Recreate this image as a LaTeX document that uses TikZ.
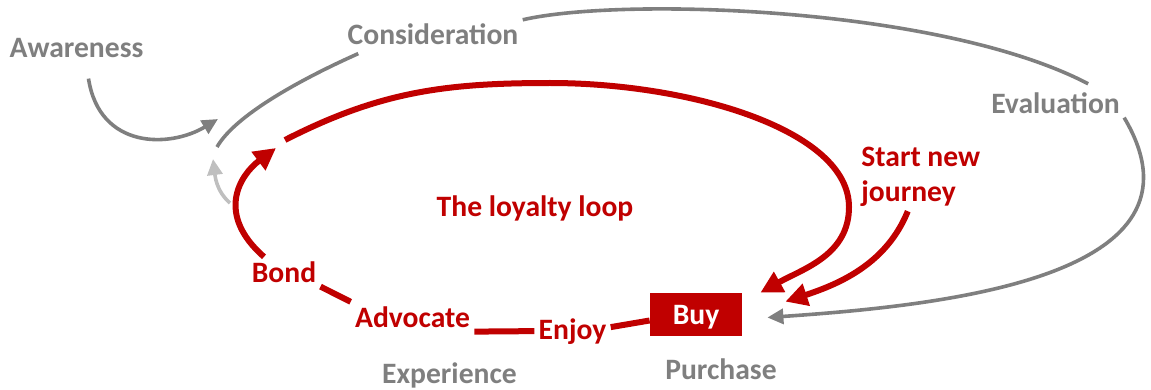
\documentclass[tikz,border=0pt]{standalone}
\usepackage{fontspec}
\setmainfont{Carlito}
\usetikzlibrary{arrows.meta}
\definecolor{LoopRed}{RGB}{192,0,0}
\definecolor{StageGray}{RGB}{127,127,127}
\definecolor{FadeGray}{RGB}{191,191,191}
\tikzset{
  stage/.style={text=StageGray,font=\bfseries\fontsize{14.8}{17.5}\selectfont,inner sep=2pt},
  redstage/.style={stage,text=LoopRed},
  buybox/.style={fill=LoopRed,text=white,font=\bfseries\fontsize{14.8}{17.5}\selectfont,
    minimum width=46pt,minimum height=21.5pt,inner sep=0pt,text depth=0pt},
  grayline/.style={draw=StageGray,line width=1.8pt},
  grayarrow/.style={grayline,-{Triangle[length=8pt,width=7.5pt]}},
  fadearrow/.style={draw=FadeGray,line width=1.8pt,-{Triangle[length=8pt,width=7.5pt]}},
  redline/.style={draw=LoopRed,line width=3pt},
  redarrow/.style={redline,-{Triangle[length=11pt,width=11pt]}},
}

\begin{document}
\begin{tikzpicture}[x=0.5pt,y=-0.5pt]
\useasboundingbox (0,0) rectangle (1151,390);
% outer journey labels
\node[stage,anchor=base] (aware) at (76.5,58) {Awareness};
\node[stage,anchor=base] (consid) at (433,45) {Consideration};
\node[stage,anchor=base] (eval) at (1055.5,113) {Evaluation};
\node[stage,anchor=base] (purchase) at (721,379) {Purchase};
\node[stage,anchor=base] (exper) at (449.5,383.5) {Experience};
% loyalty loop labels
\node[redstage,anchor=base] (loop) at (535,216) {The loyalty loop};
\node[redstage,anchor=base] (bond) at (284,282) {Bond};
\node[redstage,anchor=base] (advocate) at (412.5,327) {Advocate};
\node[redstage,anchor=base] (enjoy) at (572.5,339) {Enjoy};
\node[redstage,anchor=north west,align=left] (journey) at (857,143) {Start new\\journey};
\node[buybox] (buy) at (696,314.5) {Buy};
\coordinate (gstart) at (217,147);
\coordinate (awaretip) at (218,119);
\coordinate (fadestart) at (230,203);
\coordinate (fadetip) at (213,159);
\coordinate (loopstart) at (285,140);
\coordinate (bondtip) at (276,148);

% outer gray path
\draw[grayline] (gstart) .. controls +(20,-35) and +(-45,20) .. ([xshift=7.5pt,yshift=-2pt]consid.south west);
\draw[grayline] (consid.north east) .. controls +(99,-23) and +(-147,-77) .. ([xshift=-18pt,yshift=2pt]eval.north east);
\draw[grayarrow] (eval.south east) .. controls +(95,160) and +(175,-12) .. ([xshift=12.5pt,yshift=-1.5pt]buy.east);
\draw[grayarrow] ([xshift=6pt,yshift=-8pt]aware.south) .. controls +(11,71) and +(-48,29) .. (awaretip);
\draw[fadearrow] (fadestart) .. controls +(-14,-12) and +(2,16) .. (fadetip);

% red loop
\draw[redarrow] (loopstart) .. controls +(94,-48) and +(-106,0) .. (550,83)
  .. controls +(140,0) and +(0,-77) .. (849,207)
  .. controls +(0,48) and +(43,-24) .. ([xshift=9pt]buy.north east);
\draw[redarrow] ([xshift=-6.5pt]journey.south) .. controls +(-21,52) and +(55,-18) .. ([xshift=21.5pt,yshift=-4.5pt]buy.north east);
\draw[redline] ([yshift=-3pt]buy.west) -- ([yshift=2pt]enjoy.east);
\draw[redline] (enjoy.west) -- (advocate.south east);
\draw[redline] (advocate.north west) -- (bond.south east);
\draw[redarrow] ([xshift=-10pt]bond.north) .. controls +(-49,-43) and +(-36,27) .. (bondtip);
\end{tikzpicture}
\end{document}
